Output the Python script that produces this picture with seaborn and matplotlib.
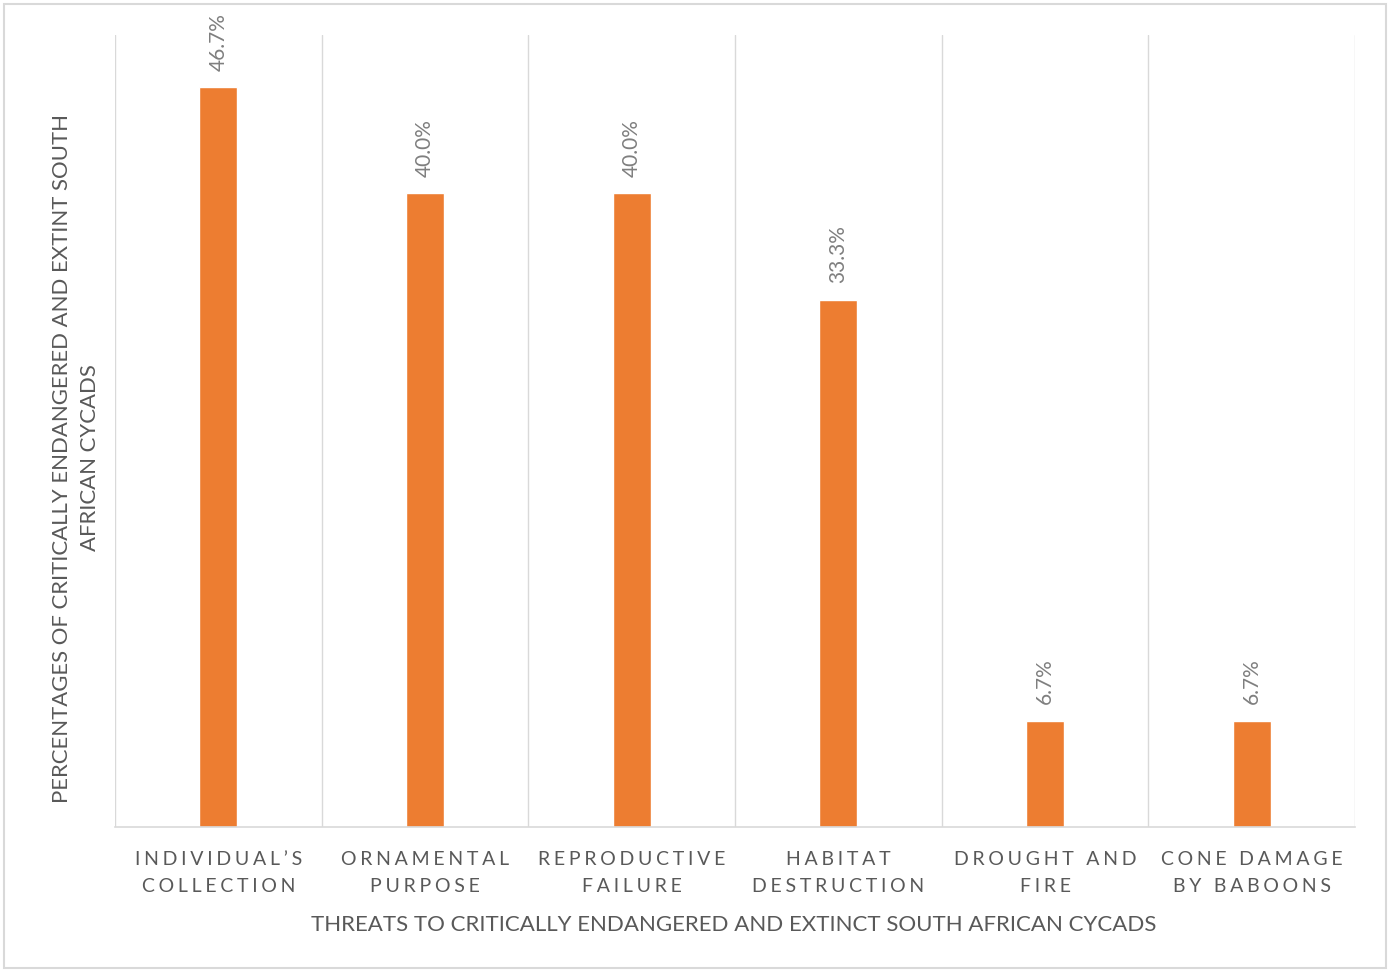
import matplotlib
matplotlib.use("Agg")
import matplotlib.pyplot as plt
import seaborn as sns
import pandas as pd
from matplotlib.patches import Rectangle

categories = ["INDIVIDUAL’S\nCOLLECTION", "ORNAMENTAL\nPURPOSE", "REPRODUCTIVE\nFAILURE",
              "HABITAT\nDESTRUCTION", "DROUGHT AND\nFIRE", "CONE DAMAGE\nBY BABOONS"]
values = [46.7, 40.0, 40.0, 33.3, 6.7, 6.7]
value_labels = ["46.7%", "40.0%", "40.0%", "33.3%", "6.7%", "6.7%"]
x_title = "THREATS TO CRITICALLY ENDANGERED AND EXTINCT SOUTH AFRICAN CYCADS"
y_title = "PERCENTAGES OF CRITICALLY ENDANGERED AND EXTINT SOUTH\nAFRICAN CYCADS"

sns.set_theme(style="white")
FAM = ["Lato", "DejaVu Sans"]
plt.rcParams["font.family"] = FAM

def spaced(s):
    return "\n".join("\u2009\u200a".join(list(line)) for line in s.split("\n"))

df = pd.DataFrame({"cat": categories, "val": values})

fig = plt.figure(figsize=(13.9, 9.72), dpi=100)
ax = fig.add_axes([115/1390, 1 - 827/972, (1355-115)/1390, (827-35)/972])
sns.barplot(data=df, x="cat", y="val", color="#ED7D31", width=0.185, ax=ax, saturation=1)

ax.set_ylim(0, 50)
ax.set_xlim(-0.5, len(categories) - 0.5)
ax.set_yticks([])
ax.set_xticks(range(len(categories)))
ax.set_xticklabels([spaced(c) for c in categories], fontsize=14, color="#595959",
                   linespacing=1.75)
ax.tick_params(axis="x", length=0, pad=17)
ax.set_xticks([i - 0.5 for i in range(len(categories) + 1)], minor=True)
ax.grid(True, which="minor", axis="x", color="#d9d9d9", linewidth=1)
ax.set_axisbelow(True)
for s in ["top", "left", "right"]:
    ax.spines[s].set_visible(False)
ax.spines["bottom"].set_color("#d9d9d9")
ax.spines["bottom"].set_linewidth(1.2)
ax.set_xlabel("")
ax.set_ylabel("")

for i, (v, lab) in enumerate(zip(values, value_labels)):
    ax.annotate(lab, (i, v), xytext=(0, 12), textcoords="offset points",
                rotation=90, ha="center", va="bottom", fontsize=15, color="#7f7f7f")

fig.text(734/1390, 1 - 925/972, x_title, ha="center", va="center", fontsize=16, color="#595959")
fig.text(76/1390, 1 - 458/972, y_title, ha="center", va="center", rotation=90,
         fontsize=15.9, color="#595959", linespacing=1.55, multialignment="center")

fig.add_artist(Rectangle((4/1390, 4/972), 1 - 8/1390, 1 - 8/972, transform=fig.transFigure,
                         fill=False, edgecolor="#d9d9d9", linewidth=1.5))

fig.savefig("out.png", dpi=100)
